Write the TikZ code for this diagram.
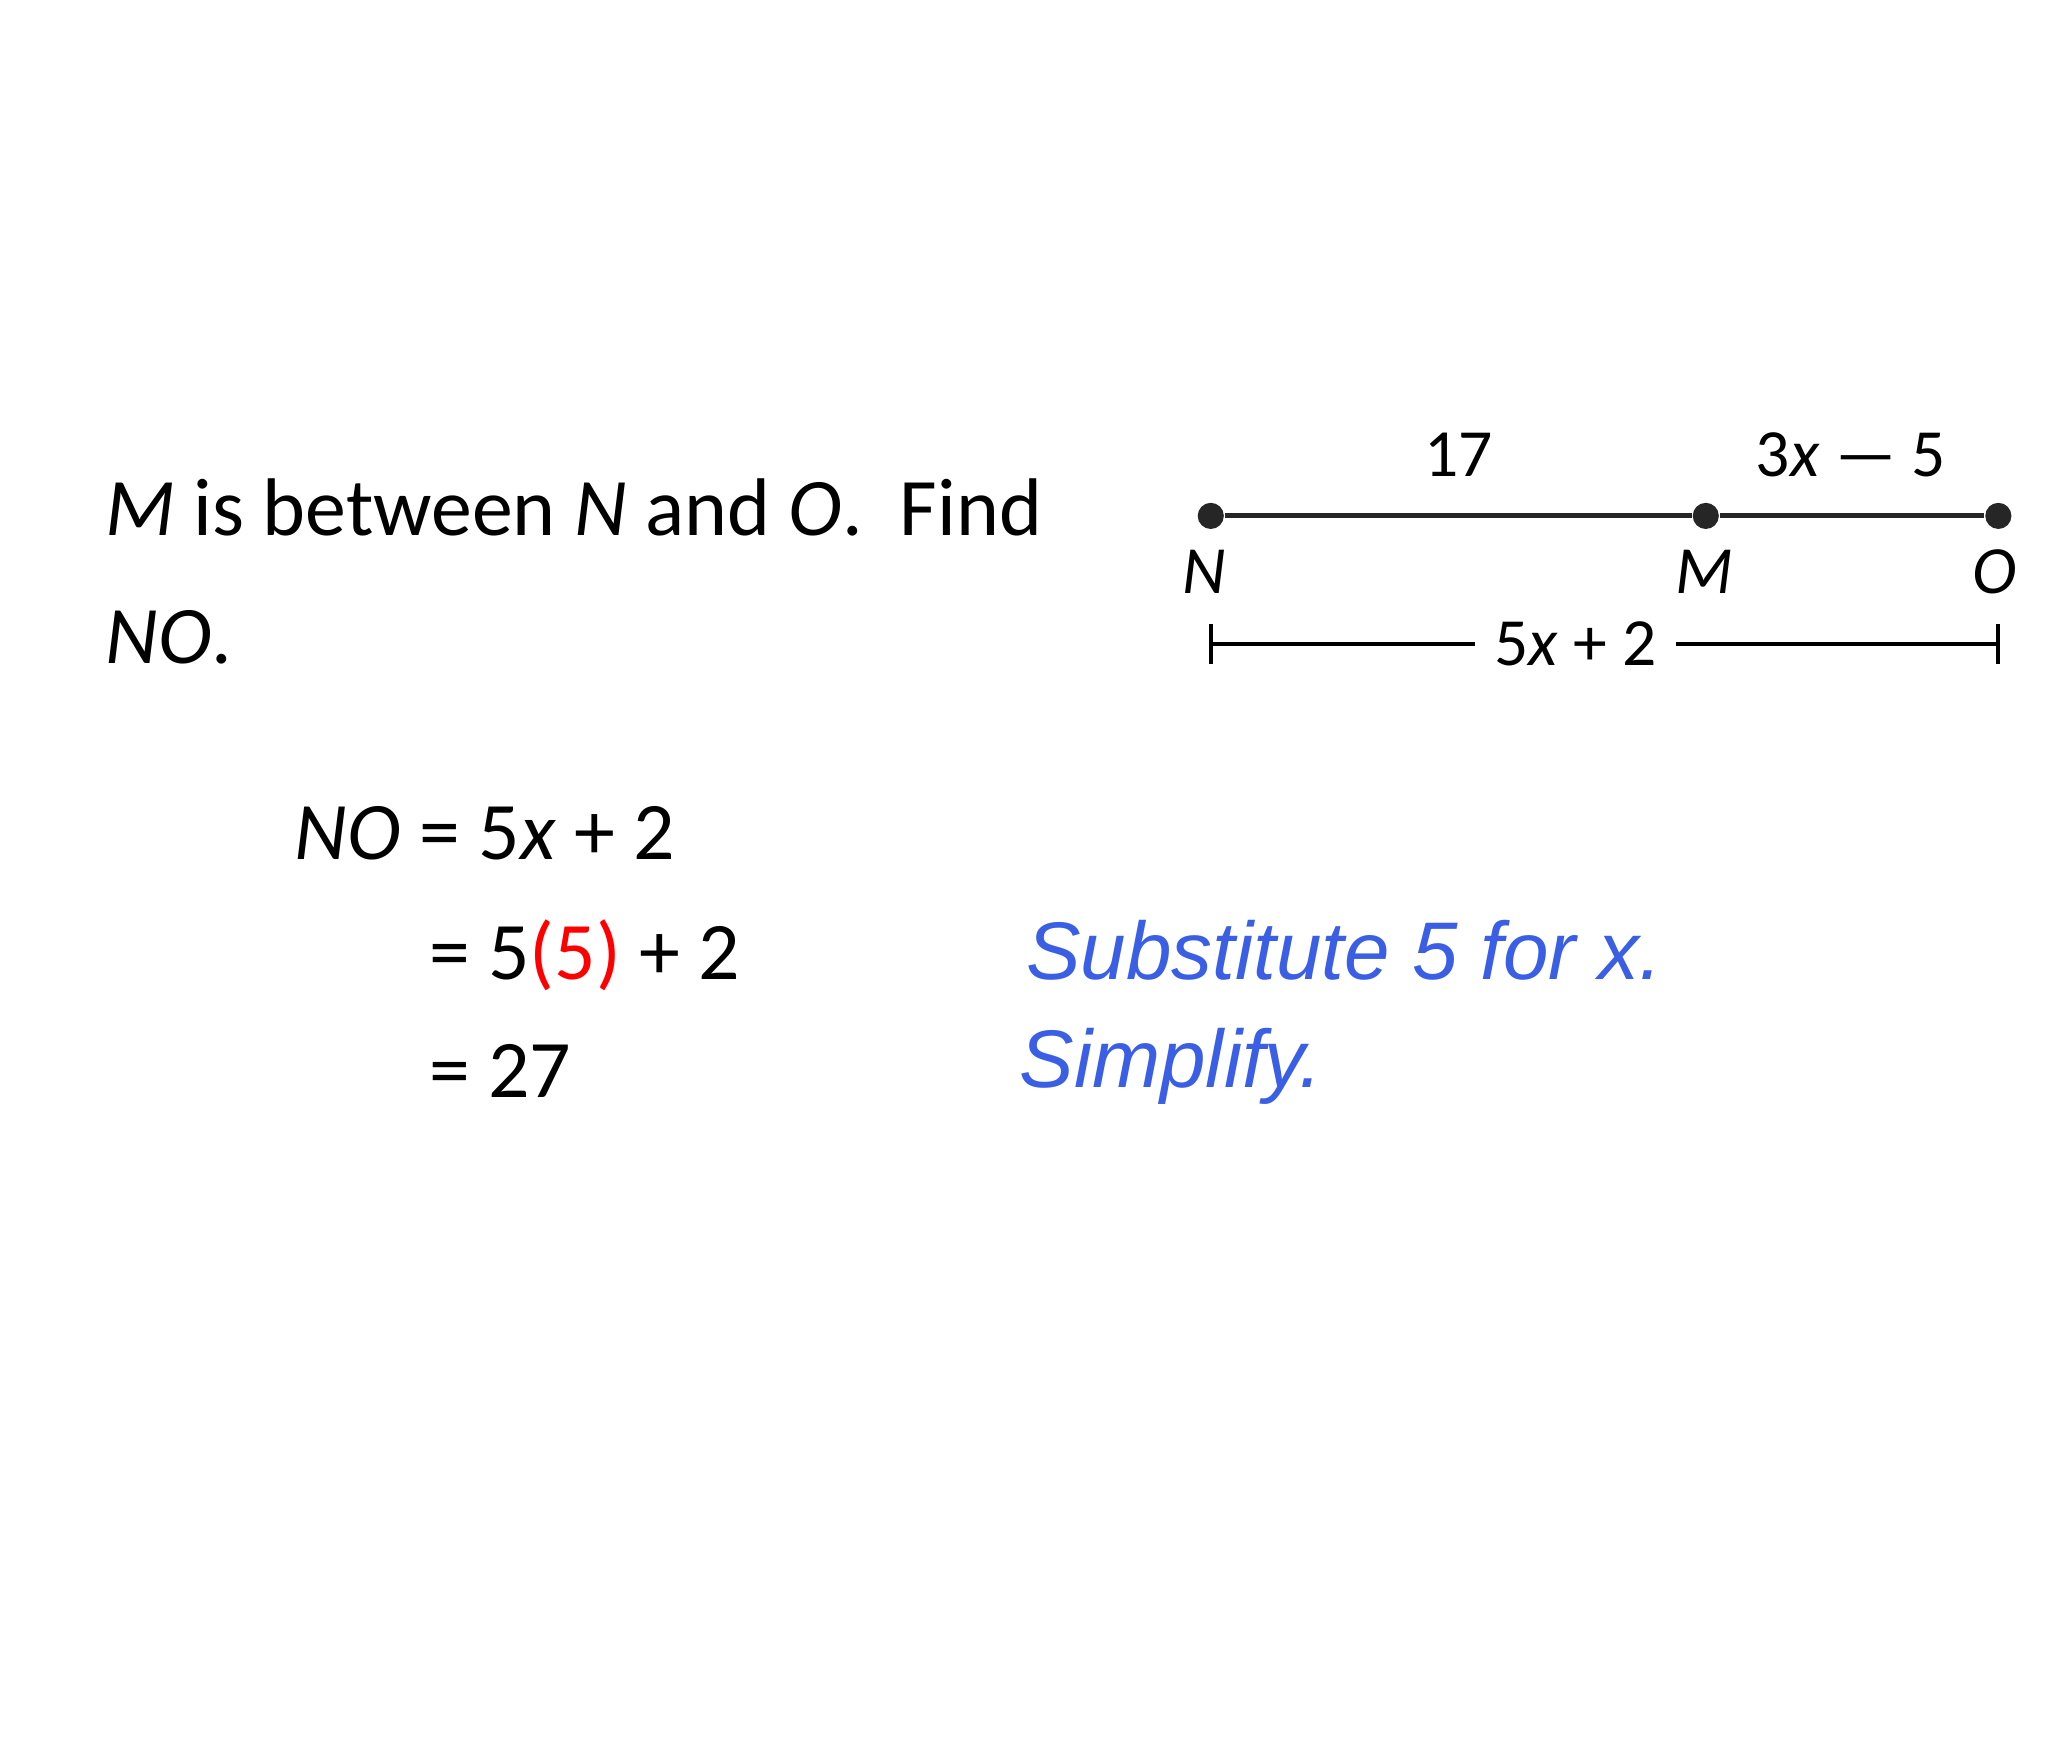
\documentclass[tikz,border=0pt]{standalone}
\usepackage{fontspec}
\setmainfont{Carlito}
\newfontfamily\arialf{Liberation Sans}
\begin{document}
\begin{tikzpicture}[x=0.01cm,y=-0.01cm,
  txt/.style={anchor=base west,inner sep=0,font=\fontsize{17.8}{21}\selectfont},
  blu/.style={anchor=base west,inner sep=0,font=\arialf\itshape\fontsize{17.8}{21}\selectfont,text=bluet},
  lab/.style={inner sep=0,font=\fontsize{14.7}{17}\selectfont},
  dot/.style={circle,fill=black!85,inner sep=0,minimum size=0.2cm}]
\definecolor{bluet}{HTML}{3A5FE5}
\useasboundingbox (0,0) rectangle (1568,1340);
\node[txt] (t1) at (80,410) {\textit{M} is between \textit{N} and \textit{O}.\ \ Find};
\node[txt] (t2) at (80,508) {\textit{NO}.};
\node[txt] (e1) at (225,658) {\textit{NO} = 5\textit{x} + 2};
\node[txt] (e2) at (328,750) {= 5\textcolor{red}{(5)} + 2};
\node[txt] (e3) at (328,840) {= 27};
\node[blu] (b1) at (785,750) {Substitute 5 for x.};
\node[blu] (b2) at (780,833) {Simplify.};
\node[dot] (N) at (927,395) {};
\node[dot] (M) at (1306,395) {};
\node[dot] (O) at (1530,395) {};
\draw[line width=1.1pt,black!85] (N) -- (M) -- (O);
\node[lab] (lN) at (922,438) {\textit{N}};
\node[lab] (lM) at (1305,438) {\textit{M}};
\node[lab] (lO) at (1527,438) {\textit{O}};
\node[lab] (l17) at (1117,348) {17};
\node[lab] (l3x) at (1417,348) {3\textit{x} — 5};
\coordinate (d1) at (927,493);
\coordinate (d2) at (1530,493);
\node[lab,fill=white,inner xsep=4pt] (l5x) at (1206,493) {5\textit{x} + 2};
\draw[line width=0.9pt] (d1) -- (l5x.west) (l5x.east) -- (d2);
\draw[line width=0.9pt] ([yshift=-0.15cm]d1) -- ([yshift=0.15cm]d1);
\draw[line width=0.9pt] ([yshift=-0.15cm]d2) -- ([yshift=0.15cm]d2);
\end{tikzpicture}
\end{document}
